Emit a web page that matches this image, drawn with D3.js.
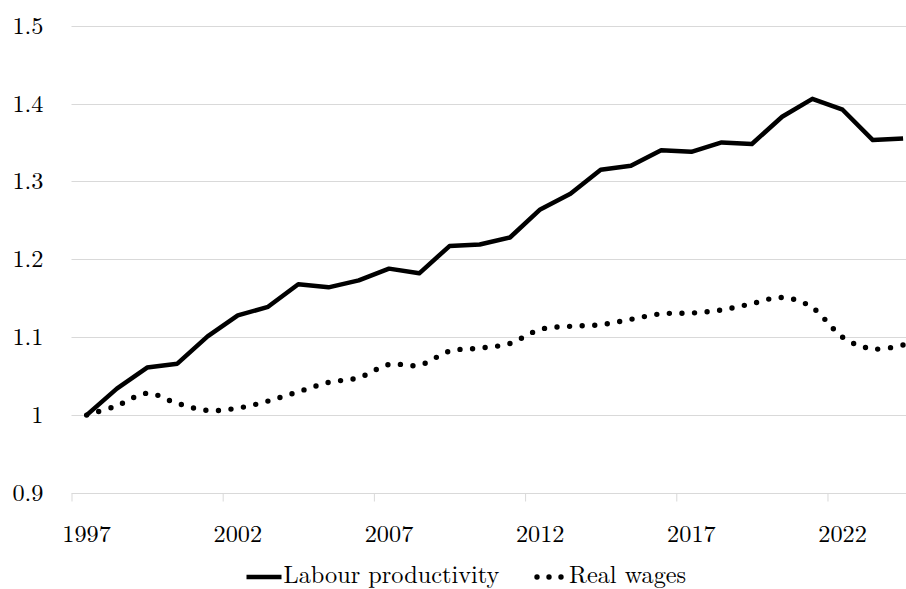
<!DOCTYPE html>
<html>
<head>
<meta charset="utf-8">
<script src="https://cdn.jsdelivr.net/npm/d3@7"></script>
<style>
  html, body { margin: 0; padding: 0; background: #fff; }
  svg { display: block; }
</style>
</head>
<body>
<svg id="chart" width="906" height="589"></svg>
<script>
// Index, 1997 = 1
const years = d3.range(1997, 2025);
const labourProductivity = [
  1.000, 1.034, 1.061, 1.066, 1.101, 1.128, 1.139, 1.168, 1.164, 1.173,
  1.188, 1.182, 1.217, 1.219, 1.228, 1.264, 1.284, 1.315, 1.320, 1.340,
  1.338, 1.350, 1.348, 1.383, 1.406, 1.392, 1.353, 1.355
];
const realWages = [
  1.000, 1.012, 1.028, 1.015, 1.006, 1.009, 1.018, 1.030, 1.042, 1.048,
  1.065, 1.064, 1.082, 1.086, 1.092, 1.110, 1.114, 1.116, 1.123, 1.130,
  1.131, 1.135, 1.143, 1.151, 1.138, 1.100, 1.085, 1.090
];
const yTicks = [0.9, 1.0, 1.1, 1.2, 1.3, 1.4, 1.5];
const xLabelYears = [1997, 2002, 2007, 2012, 2017, 2022];
const seriesNames = ["Labour productivity", "Real wages"];

const FONT_FAMILY = "'Latin Modern Roman', 'Liberation Serif', serif";
const FONT = "24.3px";

const svg = d3.select("#chart");

const plot = { left: 71.5, right: 918.2, top: 25.6, bottom: 493 };

// Category axis: each year occupies one slot, points sit at slot centres
const x = d3.scaleLinear()
  .domain([years[0] - 0.5, years[years.length - 1] + 0.5])
  .range([plot.left, plot.right]);
const y = d3.scaleLinear().domain([0.9, 1.5]).range([plot.bottom, plot.top]);

function styleText(sel) {
  return sel.style("font-family", FONT_FAMILY).style("font-size", FONT).style("fill", "#000");
}

// Horizontal gridlines
svg.append("g")
  .selectAll("line")
  .data(yTicks.slice(1))
  .join("line")
  .attr("x1", plot.left).attr("x2", plot.right)
  .attr("y1", d => Math.round(y(d)) + 0.5).attr("y2", d => Math.round(y(d)) + 0.5)
  .attr("stroke", "#d9d9d9").attr("stroke-width", 1);

// Y axis labels
svg.append("g")
  .selectAll("text")
  .data(yTicks)
  .join("text")
  .attr("x", 43.5)
  .attr("y", d => y(d))
  .attr("dy", "0.33em")
  .attr("text-anchor", "end")
  .call(styleText)
  .text(d => String(+d.toFixed(1)));

// X axis: baseline, tick marks between categories, labels at category centres
const xAxis = d3.axisBottom(x)
  .tickValues(xLabelYears.map(v => v - 0.5))
  .tickSize(8)
  .tickFormat("");
const gx = svg.append("g")
  .attr("transform", `translate(0,${Math.round(plot.bottom) + 0.5})`)
  .call(xAxis);
gx.select(".domain").attr("stroke", "#d9d9d9").attr("d", `M${plot.left},0H${plot.right}`);
gx.selectAll(".tick line").attr("stroke", "#d9d9d9");

svg.append("g")
  .selectAll("text")
  .data(xLabelYears)
  .join("text")
  .attr("x", d => x(d))
  .attr("y", 541.5)
  .attr("text-anchor", "middle")
  .call(styleText)
  .text(d => d);

// Series
const prodLine = d3.line()
  .x((d, i) => x(years[i]))
  .y(d => y(d));
const wageLine = d3.line()
  .x((d, i) => x(years[i]))
  .y(d => y(d))
  .curve(d3.curveCardinal.tension(0));

svg.append("path")
  .datum(realWages)
  .attr("d", wageLine)
  .attr("fill", "none")
  .attr("stroke", "#000")
  .attr("stroke-width", 5.4)
  .attr("stroke-linecap", "round")
  .attr("stroke-dasharray", "0 12.6");

svg.append("path")
  .datum(labourProductivity)
  .attr("d", prodLine)
  .attr("fill", "none")
  .attr("stroke", "#000")
  .attr("stroke-width", 4.5)
  .attr("stroke-linejoin", "round");

// Legend
const legendY = 577;
const legend = svg.append("g");
legend.append("line")
  .attr("x1", 246.5).attr("x2", 281.5)
  .attr("y1", legendY).attr("y2", legendY)
  .attr("stroke", "#000").attr("stroke-width", 4.5);
legend.append("text")
  .attr("x", 283.5).attr("y", 583)
  .call(styleText)
  .text(seriesNames[0]);
legend.append("line")
  .attr("x1", 537).attr("x2", 561.5)
  .attr("y1", legendY).attr("y2", legendY)
  .attr("stroke", "#000").attr("stroke-width", 5.4)
  .attr("stroke-linecap", "round")
  .attr("stroke-dasharray", "0 12");
legend.append("text")
  .attr("x", 569).attr("y", 583)
  .call(styleText)
  .text(seriesNames[1]);
</script>
</body>
</html>
